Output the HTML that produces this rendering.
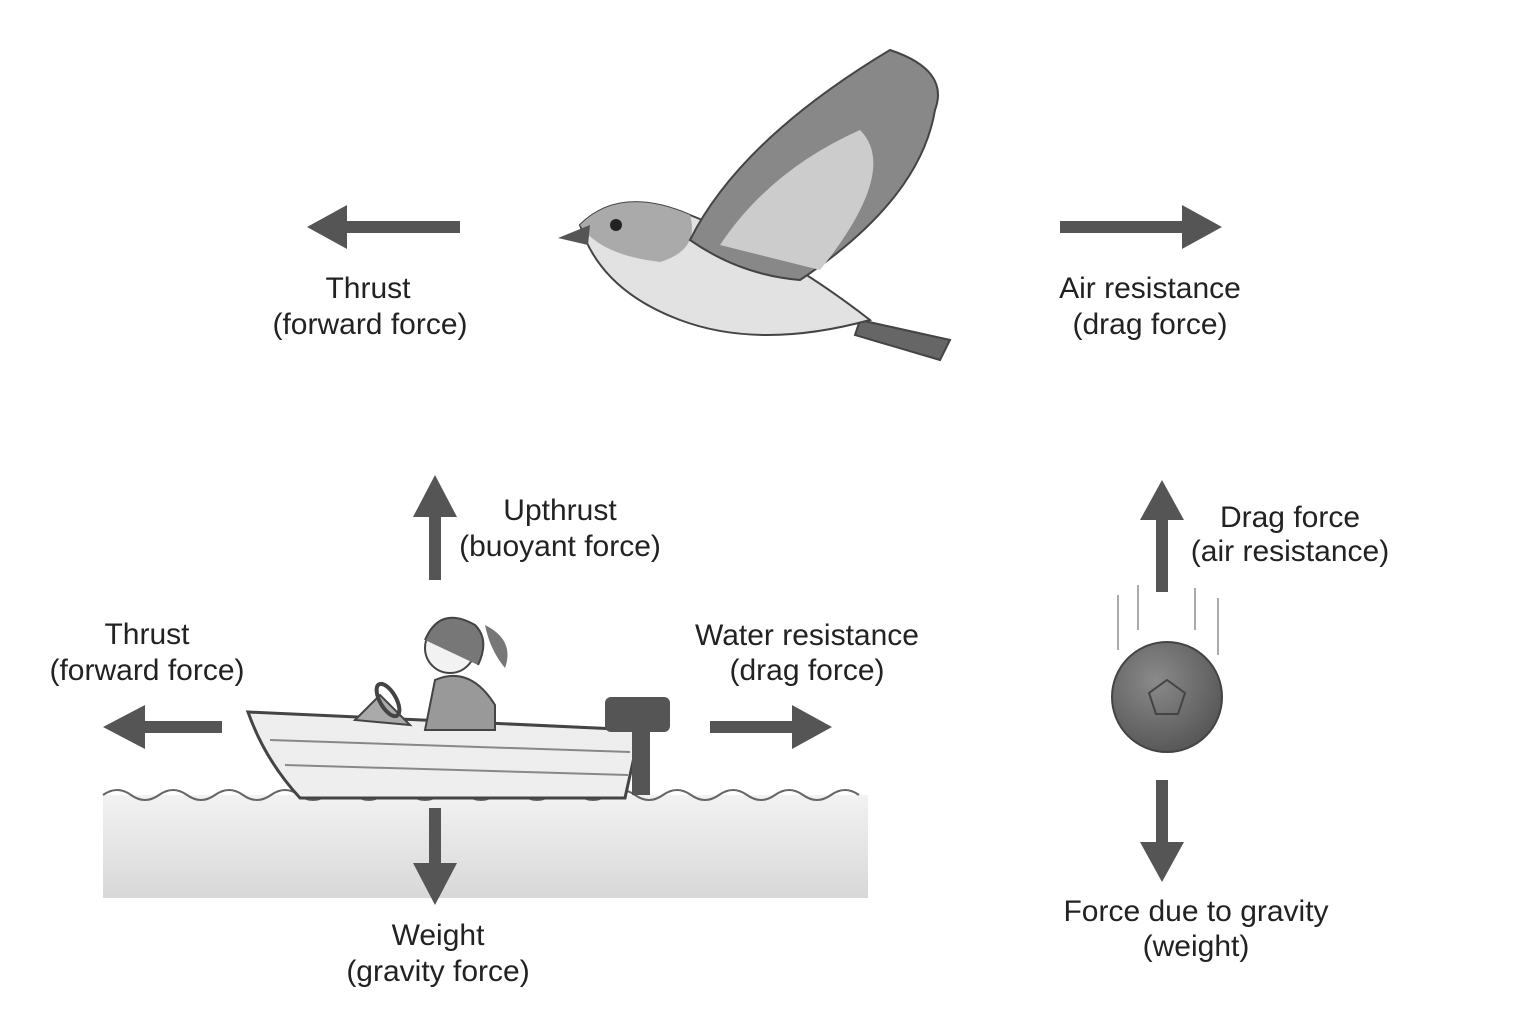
<!DOCTYPE html>
<html><head><meta charset="utf-8"><style>
html,body{margin:0;padding:0;background:#fff;}
svg{display:block;}
text{font-family:"Liberation Sans",sans-serif;font-size:30px;fill:#222;text-anchor:middle;}
</style></head><body>
<svg width="1536" height="1024" viewBox="0 0 1536 1024" xmlns="http://www.w3.org/2000/svg">
<defs>
<linearGradient id="w" x1="0" y1="0" x2="0" y2="1"><stop offset="0" stop-color="#f2f2f2"/><stop offset="1" stop-color="#d8d8d8"/></linearGradient>
<radialGradient id="b" cx="0.4" cy="0.35" r="0.7"><stop offset="0" stop-color="#8a8a8a"/><stop offset="1" stop-color="#555"/></radialGradient>
</defs>
<!-- water -->
<rect x="103" y="795" width="765" height="103" fill="url(#w)"/>
<path d="M103,795 q14,-10 28,0 t28,0 t28,0 t28,0 t28,0 t28,0 t28,0 t28,0 t28,0 t28,0 t28,0 t28,0 t28,0 t28,0 t28,0 t28,0 t28,0 t28,0 t28,0 t28,0 t28,0 t28,0 t28,0 t28,0 t28,0 t28,0 t28,0" fill="none" stroke="#666" stroke-width="2"/>
<!-- boat -->
<path d="M248,712 L640,730 L625,798 L300,798 Q265,760 248,712Z" fill="#eee" stroke="#444" stroke-width="3"/>
<path d="M270,740 L630,752 M285,765 L628,775" stroke="#888" stroke-width="2"/>
<rect x="605" y="697" width="65" height="35" rx="6" fill="#555"/>
<rect x="632" y="730" width="18" height="65" fill="#555"/>
<!-- girl -->
<circle cx="450" cy="648" r="25" fill="#f2f2f2" stroke="#444" stroke-width="2"/>
<path d="M425,640 Q440,605 475,625 Q490,640 478,665" fill="#777" stroke="#444" stroke-width="2"/>
<path d="M485,625 Q515,640 505,668 Q490,650 485,625Z" fill="#777"/>
<path d="M435,680 Q470,665 495,705 L495,730 L425,730Z" fill="#999" stroke="#444" stroke-width="2"/>
<path d="M355,720 L380,695 L410,725Z" fill="#aaa" stroke="#444" stroke-width="2"/>
<ellipse cx="388" cy="700" rx="8" ry="18" fill="none" stroke="#444" stroke-width="4" transform="rotate(-30 388 700)"/>
<g fill="#555">
<rect x="340" y="221" width="120" height="12"/><polygon points="307,227 347,205 347,249"/>
<rect x="1060" y="221" width="128" height="12"/><polygon points="1222,227 1182,205 1182,249"/>
<rect x="429" y="515" width="12" height="65"/><polygon points="435,475 413,517 457,517"/>
<rect x="140" y="721" width="82" height="12"/><polygon points="103,727 145,705 145,749"/>
<rect x="710" y="721" width="88" height="12"/><polygon points="832,727 792,705 792,749"/>
<rect x="429" y="808" width="12" height="60"/><polygon points="435,905 413,863 457,863"/>
<rect x="1156" y="515" width="12" height="77"/><polygon points="1162,480 1140,520 1184,520"/>
<rect x="1156" y="780" width="12" height="65"/><polygon points="1162,882 1140,842 1184,842"/>
</g>
<!-- ball -->
<circle cx="1167" cy="697" r="55" fill="url(#b)" stroke="#444" stroke-width="2"/>
<polygon points="1167,680 1185,693 1178,714 1156,714 1149,693" fill="none" stroke="#444" stroke-width="2"/>
<g stroke="#aaa" stroke-width="2"><line x1="1118" y1="595" x2="1118" y2="650"/><line x1="1138" y1="585" x2="1138" y2="630"/><line x1="1195" y1="588" x2="1195" y2="630"/><line x1="1218" y1="598" x2="1218" y2="655"/></g>
<!-- bird -->
<path d="M860,320 L950,340 L940,360 L855,335Z" fill="#666" stroke="#444" stroke-width="2"/>
<path d="M580,225 Q620,185 690,215 Q780,250 870,320 Q760,350 680,320 Q600,290 580,225Z" fill="#e2e2e2" stroke="#444" stroke-width="2"/>
<path d="M580,225 Q620,185 690,215 Q700,250 660,262 Q600,255 580,225Z" fill="#aaa"/>
<path d="M558,238 L590,225 L588,245Z" fill="#555"/>
<circle cx="616" cy="225" r="6" fill="#222"/>
<path d="M690,240 Q740,140 890,50 Q950,70 935,110 Q920,200 800,280 Q740,275 690,240Z" fill="#888" stroke="#444" stroke-width="2"/>
<path d="M720,245 Q770,170 860,130 Q900,170 820,270Z" fill="#ccc"/>
<!-- labels -->
<text x="368" y="298">Thrust</text><text x="370" y="334">(forward force)</text>
<text x="1150" y="298">Air resistance</text><text x="1150" y="334">(drag force)</text>
<text x="560" y="520">Upthrust</text><text x="560" y="556">(buoyant force)</text>
<text x="147" y="644">Thrust</text><text x="147" y="680">(forward force)</text>
<text x="807" y="645">Water resistance</text><text x="807" y="680">(drag force)</text>
<text x="438" y="945">Weight</text><text x="438" y="981">(gravity force)</text>
<text x="1290" y="527">Drag force</text><text x="1290" y="561">(air resistance)</text>
<text x="1196" y="921">Force due to gravity</text><text x="1196" y="956">(weight)</text>
</svg>
</body></html>
